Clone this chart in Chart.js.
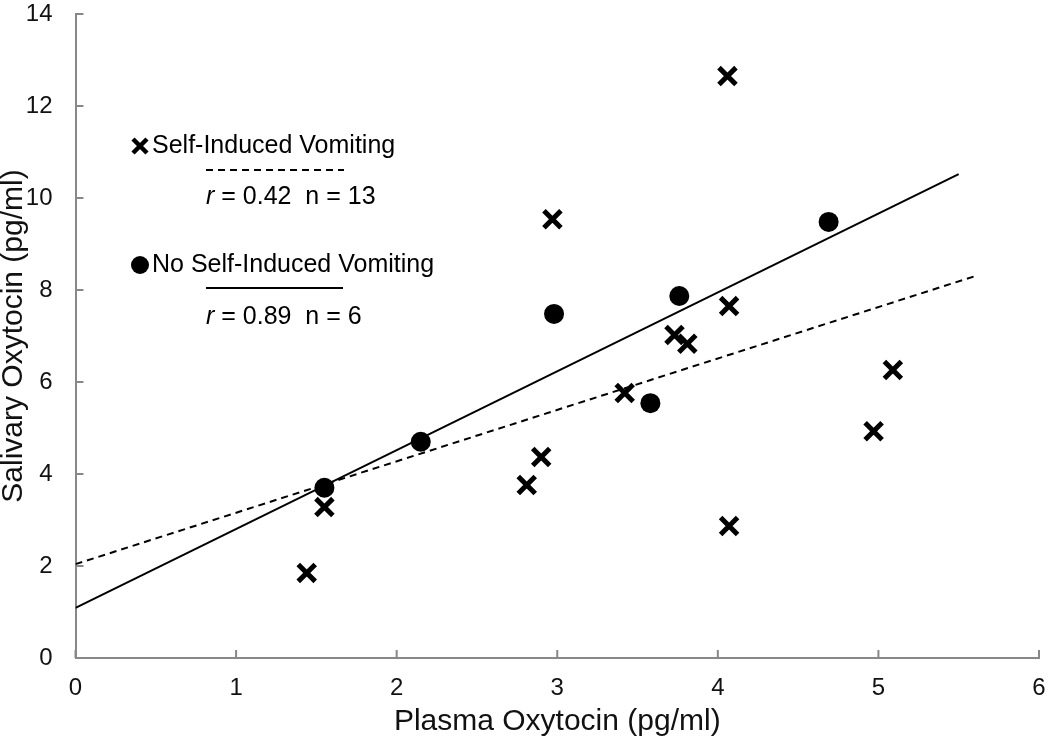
<!DOCTYPE html>
<html><head><meta charset="utf-8">
<script src="https://cdn.jsdelivr.net/npm/chart.js@4.4.1/dist/chart.umd.min.js"></script>
<style>html,body{margin:0;padding:0;background:#fff}#wrap{width:1050px;height:746px}</style>
</head><body><div id="wrap"><canvas id="c" width="1050" height="746"></canvas></div>
<script>
// Self-Induced Vomiting (crosses)
const sivX = [1.44, 1.55, 2.81, 2.90, 2.97, 3.42, 3.73, 3.81, 4.06, 4.07, 4.07, 4.97, 5.09];
const sivY = [1.85, 3.28, 3.76, 4.37, 9.54, 5.76, 7.02, 6.83, 12.65, 7.65, 2.87, 4.93, 6.26];
// No Self-Induced Vomiting (circles)
const noX = [1.55, 2.15, 2.98, 3.58, 3.76, 4.69];
const noY = [3.70, 4.70, 7.48, 5.54, 7.87, 9.48];
// Trend lines (endpoints)
const sivFitX = [0, 5.6];
const sivFitY = [2.04, 8.30];
const noFitX = [0, 5.5];
const noFitY = [1.09, 10.52];
const xTicks = [0, 1, 2, 3, 4, 5, 6];
const yTicks = [0, 2, 4, 6, 8, 10, 12, 14];
const legendTexts = ['Self-Induced Vomiting', 'r = 0.42  n = 13', 'No Self-Induced Vomiting', 'r = 0.89  n = 6'];

const pts = (xs, ys) => xs.map((x, i) => ({x: x, y: ys[i]}));
const FONT = '"Liberation Sans", Arial, sans-serif';

const innerTicks = {
  id: 'innerTicks',
  afterDraw(chart) {
    const ctx = chart.ctx, xs = chart.scales.x, ys = chart.scales.y;
    ctx.save();
    ctx.strokeStyle = '#888';
    ctx.lineWidth = 2;
    ctx.beginPath();
    xTicks.forEach(v => { const p = xs.getPixelForValue(v); ctx.moveTo(p, ys.bottom); ctx.lineTo(p, ys.bottom - 8); });
    yTicks.forEach(v => { const p = ys.getPixelForValue(v); ctx.moveTo(xs.left, p); ctx.lineTo(xs.left + 8, p); });
    ctx.stroke();
    ctx.restore();
  }
};

const legendBox = {
  id: 'legendBox',
  afterDraw(chart) {
    const ctx = chart.ctx;
    ctx.save();
    ctx.fillStyle = '#000';
    ctx.strokeStyle = '#000';
    ctx.textBaseline = 'middle';
    ctx.font = '25px ' + FONT;
    // cross marker
    ctx.lineWidth = 4.5;
    ctx.beginPath();
    ctx.moveTo(133, 139); ctx.lineTo(147, 153);
    ctx.moveTo(147, 139); ctx.lineTo(133, 153);
    ctx.stroke();
    ctx.fillText(legendTexts[0], 152, 146);
    // dashed line
    ctx.lineWidth = 2;
    ctx.setLineDash([7, 5]);
    ctx.beginPath(); ctx.moveTo(206, 170); ctx.lineTo(344, 170); ctx.stroke();
    ctx.setLineDash([]);
    drawStat(ctx, legendTexts[1], 206, 197);
    // circle marker
    ctx.beginPath(); ctx.arc(140, 265, 9, 0, Math.PI * 2); ctx.fill();
    ctx.font = '25px ' + FONT;
    ctx.fillText(legendTexts[2], 152, 265);
    ctx.lineWidth = 2;
    ctx.beginPath(); ctx.moveTo(206, 288); ctx.lineTo(343, 288); ctx.stroke();
    drawStat(ctx, legendTexts[3], 206, 317);
    ctx.restore();
  }
};
function drawStat(ctx, t, x, y) {
  ctx.font = 'italic 25px ' + FONT;
  ctx.fillText(t[0], x, y);
  const w = ctx.measureText(t[0]).width;
  ctx.font = '25px ' + FONT;
  ctx.fillText(t.slice(1), x + w, y);
}

function zeroPad(s) { s.paddingTop = 0; s.paddingBottom = 0; s.paddingLeft = 0; s.paddingRight = 0; }

new Chart(document.getElementById('c'), {
  type: 'scatter',
  data: {
    datasets: [
      {label: 'SIV fit', type: 'line', data: pts(sivFitX, sivFitY), borderColor: '#000', borderWidth: 2, borderDash: [7, 5], pointRadius: 0, fill: false},
      {label: 'No SIV fit', type: 'line', data: pts(noFitX, noFitY), borderColor: '#000', borderWidth: 2, pointRadius: 0, fill: false},
      {label: 'Self-Induced Vomiting', data: pts(sivX, sivY), pointStyle: 'crossRot', pointRadius: 12, borderColor: '#000', backgroundColor: '#000', pointBorderWidth: 5},
      {label: 'No Self-Induced Vomiting', data: pts(noX, noY), pointStyle: 'circle', pointRadius: 10, borderColor: '#000', backgroundColor: '#000', pointBorderWidth: 0}
    ]
  },
  options: {
    responsive: false,
    animation: false,
    layout: {autoPadding: false, padding: {top: 14, right: 11, left: 0, bottom: 0}},
    plugins: {legend: {display: false}, tooltip: {enabled: false}},
    scales: {
      x: {
        type: 'linear', min: 0, max: 6,
        afterBuildTicks: s => { s.ticks = xTicks.map(v => ({value: v})); },
        afterFit: s => { s.height = 88; zeroPad(s); },
        grid: {display: false, drawTicks: false},
        border: {display: true, color: '#888', width: 2},
        ticks: {color: '#111', font: {family: FONT, size: 24}, padding: 16},
        title: {display: true, text: 'Plasma Oxytocin (pg/ml)', color: '#111', font: {family: FONT, size: 30}, padding: {top: 0, bottom: 6}}
      },
      y: {
        type: 'linear', min: 0, max: 14,
        afterBuildTicks: s => { s.ticks = yTicks.map(v => ({value: v})); },
        afterFit: s => { s.width = 75.5; zeroPad(s); },
        grid: {display: false, drawTicks: false},
        border: {display: true, color: '#888', width: 2},
        ticks: {color: '#111', font: {family: FONT, size: 24}, padding: 23},
        title: {display: true, text: 'Salivary Oxytocin (pg/ml)', color: '#111', font: {family: FONT, size: 30}, padding: {top: -4, bottom: 0}}
      }
    }
  },
  plugins: [innerTicks, legendBox]
});
</script></body></html>
